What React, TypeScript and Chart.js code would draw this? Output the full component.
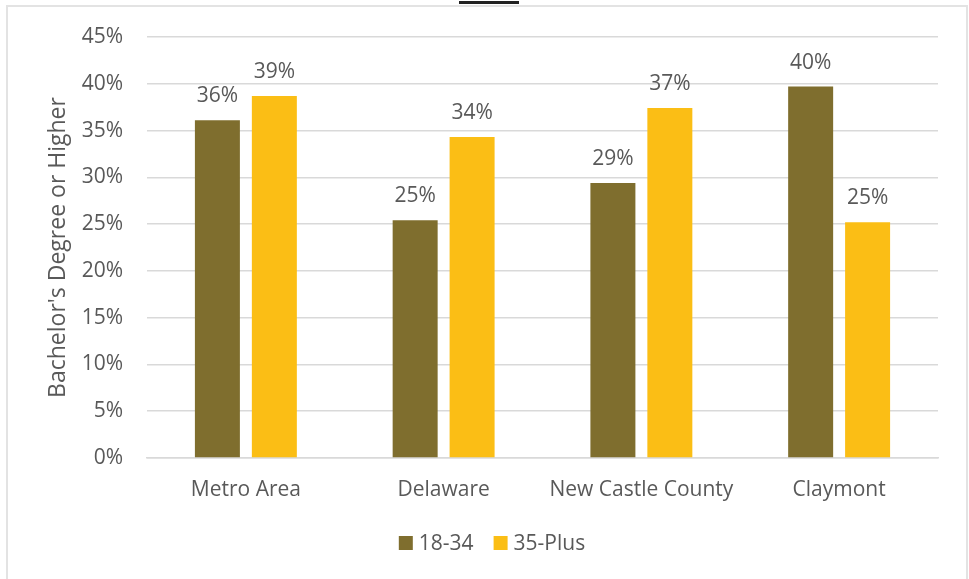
import React, { useEffect, useRef } from "react";
import { Chart, registerables } from "chart.js";

Chart.register(...registerables);

const categories = ["Metro Area", "Delaware", "New Castle County", "Claymont"];
const seriesNames = ["18-34", "35-Plus"];
const young = [36.1, 25.4, 29.4, 39.7];
const older = [38.7, 34.3, 37.4, 25.2];
const yTicks = [0, 5, 10, 15, 20, 25, 30, 35, 40, 45];
const colors = ["#7F6E2E", "#FBBE15"];
const FONT = "'Open Sans', sans-serif";

const dataLabels = {
  id: "dataLabels",
  afterDatasetsDraw(chart: any) {
    const ctx = chart.ctx;
    ctx.save();
    ctx.font = `21px ${FONT}`;
    ctx.fillStyle = "#595959";
    ctx.textAlign = "center";
    ctx.textBaseline = "alphabetic";
    chart.data.datasets.forEach((ds: any, i: number) => {
      const meta = chart.getDatasetMeta(i);
      meta.data.forEach((bar: any, j: number) => {
        const v = ds.data[j];
        ctx.fillText(Math.round(v) + "%", bar.x, bar.y - 18);
      });
    });
    ctx.restore();
  },
};

const customLegend = {
  id: "customLegend",
  afterDraw(chart: any) {
    const ctx = chart.ctx;
    ctx.save();
    ctx.font = `21px ${FONT}`;
    ctx.textBaseline = "middle";
    ctx.textAlign = "left";
    const box = 14;
    const gapBoxText = 6;
    const gapItems = 20;
    const items = chart.data.datasets.map((ds: any) => ({
      text: ds.label,
      color: ds.backgroundColor,
      w: box + gapBoxText + ctx.measureText(ds.label).width,
    }));
    const total = items.reduce((a: number, it: any) => a + it.w, 0) + gapItems * (items.length - 1);
    let x = 492 - total / 2;
    const cy = 543;
    items.forEach((it: any) => {
      ctx.fillStyle = it.color;
      ctx.fillRect(x, cy - box / 2, box, box);
      ctx.fillStyle = "#595959";
      ctx.fillText(it.text, x + box + gapBoxText, cy + 1);
      x += it.w + gapItems;
    });
    ctx.restore();
  },
};

export default function App() {
  const ref = useRef<HTMLCanvasElement | null>(null);
  useEffect(() => {
    if (!ref.current) return;
    const chart = new Chart(ref.current, {
      type: "bar",
      data: {
        labels: categories,
        datasets: [
          { label: seriesNames[0], data: young, backgroundColor: colors[0] },
          { label: seriesNames[1], data: older, backgroundColor: colors[1] },
        ],
      },
      options: {
        animation: false,
        responsive: false,
        maintainAspectRatio: false,
        layout: { padding: { left: 0, right: 31, top: 37, bottom: 55 } },
        datasets: { bar: { categoryPercentage: 0.576, barPercentage: 0.79 } },
        plugins: {
          legend: { display: false },
          tooltip: { enabled: false },
        },
        scales: {
          x: {
            grid: { display: false, drawTicks: false },
            border: { display: true, color: "#d9d9d9", width: 1.5 },
            ticks: { font: { family: FONT, size: 21 }, color: "#595959", padding: 19 },
            afterFit: (s: any) => { s.height = 66; },
          },
          y: {
            min: 0,
            max: 45,
            afterBuildTicks: (s: any) => { s.ticks = yTicks.map((v) => ({ value: v })); },
            grid: { color: "#d9d9d9", lineWidth: 1.5, drawTicks: false },
            border: { display: false },
            ticks: {
              font: { family: FONT, size: 21 },
              color: "#595959",
              padding: 24,
              callback: (v: any) => v + "%",
            },
            title: {
              display: true,
              text: "Bachelor's Degree or Higher",
              font: { family: FONT, size: 23 },
              color: "#595959",
              padding: { top: 45, bottom: 0 },
            },
            afterFit: (s: any) => { s.width = 147; },
          },
        },
      },
      plugins: [dataLabels, customLegend],
    });
    return () => chart.destroy();
  }, []);
  return (
    <div style={{ position: "fixed", left: 0, top: 0, width: 969, height: 579, background: "#fff", overflow: "hidden" }}>
      <div style={{ position: "absolute", left: 459, top: 1, width: 60, height: 3, background: "#222" }} />
      <div style={{ position: "absolute", left: 6, top: 5, width: 958, height: 620, border: "2px solid #e3e3e3" }} />
      <canvas ref={ref} width={969} height={579} style={{ position: "absolute", left: 0, top: 0 }} />
    </div>
  );
}
